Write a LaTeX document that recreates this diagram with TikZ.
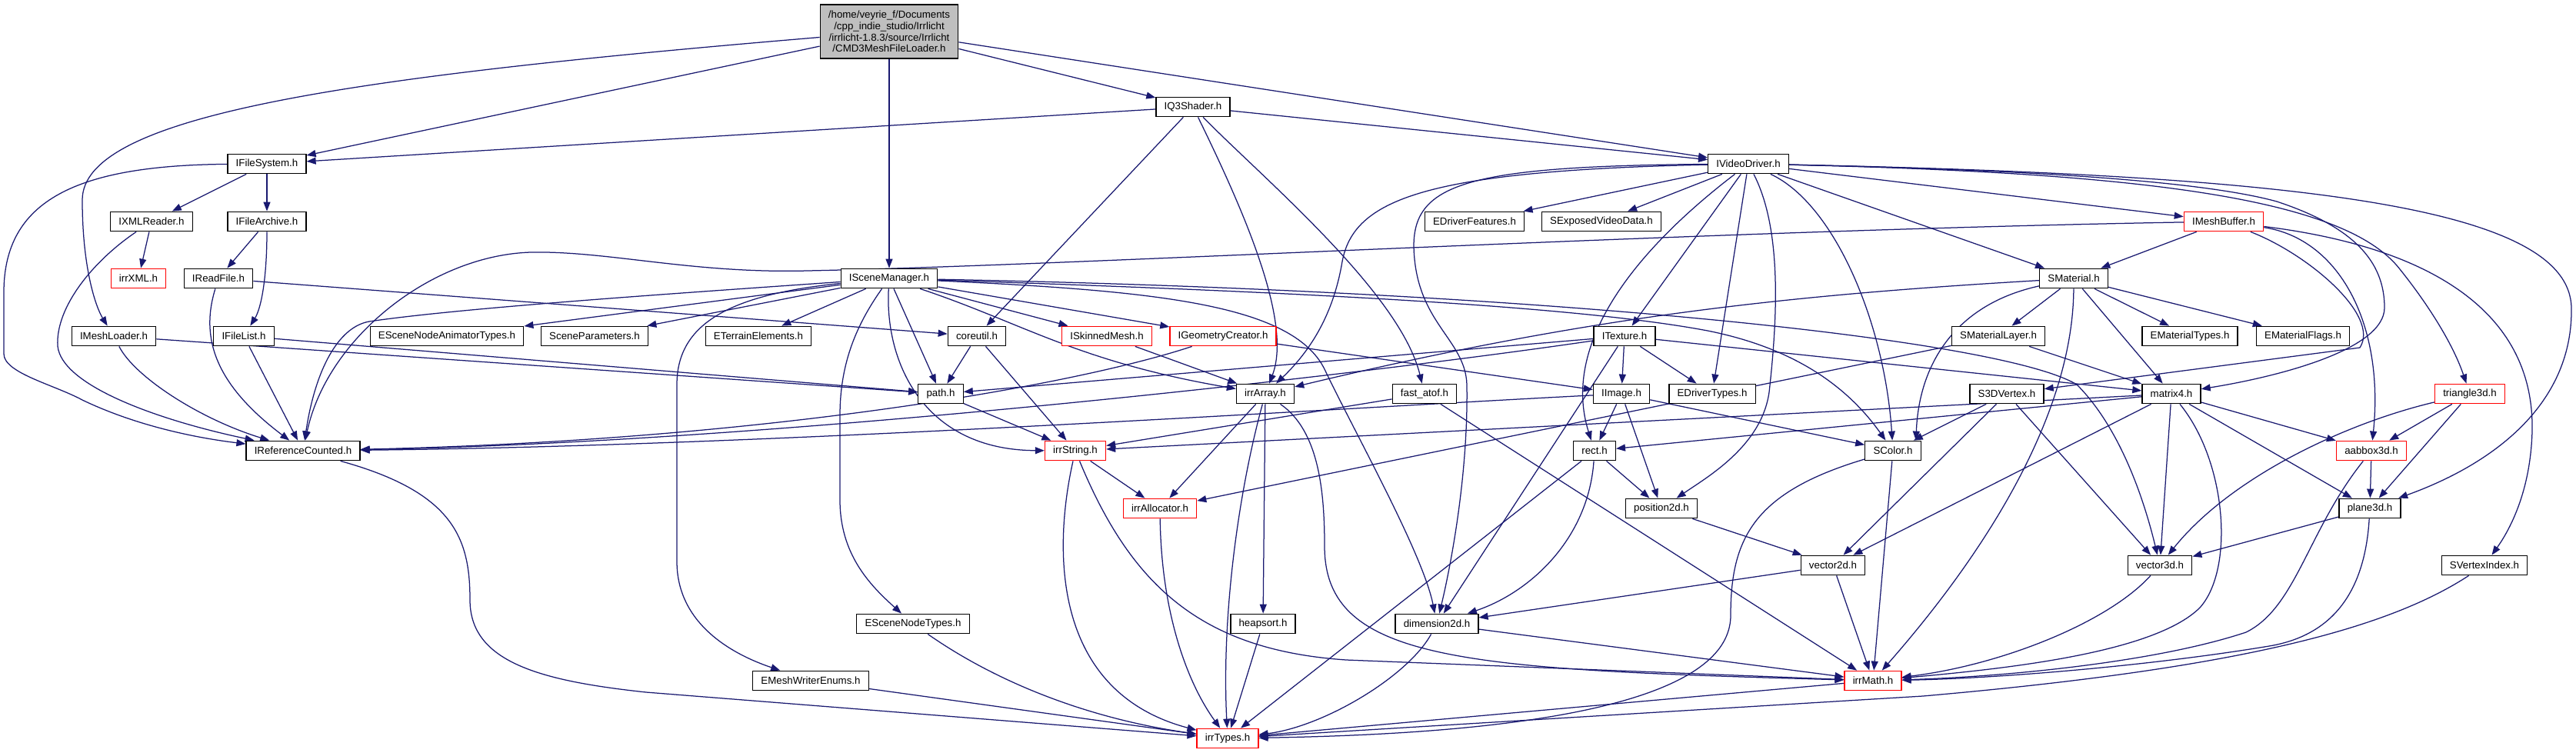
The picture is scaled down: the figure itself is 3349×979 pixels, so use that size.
\documentclass[tikz,border=0pt]{standalone}
\usepackage{fontspec}
\setmainfont{Liberation Sans}
\usetikzlibrary{arrows.meta}
\definecolor{edgeblue}{HTML}{191970}
\definecolor{topgray}{HTML}{BFBFBF}
\pgfdeclarelayer{edgelayer}
\pgfsetlayers{edgelayer,main}
\begin{document}
\begin{tikzpicture}[x=1pt,y=-1pt,
  box/.style={draw=black, line width=1.3pt, fill=white, font=\fontsize{13.3}{15}\selectfont, inner xsep=10.7pt, inner ysep=0pt, minimum height=25.5pt},
  redbox/.style={box, draw=red},
  dep/.style={draw=edgeblue, line width=1.25pt, -{Triangle[length=12pt,width=9pt]}},
]
\useasboundingbox (0,0) rectangle (3349,979);
% nodes
\node[box, fill=topgray, align=center, minimum width=178pt, minimum height=70pt, font=\fontsize{13.3}{14.6}\selectfont] (T) at (1156,41) {/home/veyrie\_f/Documents\\/cpp\_indie\_studio/Irrlicht\\/irrlicht-1.8.3/source/Irrlicht\\/CMD3MeshFileLoader.h};
\node[box] (IQ3) at (1551,139) {IQ3Shader.h};
\node[box] (IFS) at (347,213) {IFileSystem.h};
\node[box] (IVD) at (2273,213) {IVideoDriver.h};
\node[box] (IXML) at (197,288) {IXMLReader.h};
\node[box] (IFA) at (347,288) {IFileArchive.h};
\node[box] (EDF) at (1917,288) {EDriverFeatures.h};
\node[box] (SEVD) at (2082,288) {SExposedVideoData.h};
\node[redbox] (IMB) at (2891,288) {IMeshBuffer.h};
\node[redbox] (irrXML) at (180,362) {irrXML.h};
\node[box] (IRF) at (284,362) {IReadFile.h};
\node[box] (ISM) at (1156,362) {ISceneManager.h};
\node[box] (SMat) at (2696,362) {SMaterial.h};
\node[box] (IML) at (148,437) {IMeshLoader.h};
\node[box] (IFL) at (317,437) {IFileList.h};
\node[box] (ESNAT) at (581,437) {ESceneNodeAnimatorTypes.h};
\node[box] (SP) at (773,437) {SceneParameters.h};
\node[box] (ETE) at (986,437) {ETerrainElements.h};
\node[box] (CU) at (1270,437) {coreutil.h};
\node[redbox] (ISK) at (1439,437) {ISkinnedMesh.h};
\node[redbox] (IGC) at (1590,437) {IGeometryCreator.h};
\node[box] (ITex) at (2112,437) {ITexture.h};
\node[box] (SML) at (2598,437) {SMaterialLayer.h};
\node[box] (EMT) at (2847,437) {EMaterialTypes.h};
\node[box] (EMF) at (2994,437) {EMaterialFlags.h};
\node[box] (path) at (1223,512) {path.h};
\node[box] (irrArray) at (1645,512) {irrArray.h};
\node[box] (fatof) at (1852,512) {fast\_atof.h};
\node[box] (IImg) at (2108,512) {IImage.h};
\node[box] (EDT) at (2226,512) {EDriverTypes.h};
\node[box] (S3DV) at (2609,512) {S3DVertex.h};
\node[box] (m4) at (2823,512) {matrix4.h};
\node[redbox] (tri) at (3211,512) {triangle3d.h};
\node[box] (IRC) at (394,586) {IReferenceCounted.h};
\node[redbox] (irrStr) at (1398,586) {irrString.h};
\node[box] (rect) at (2073,586) {rect.h};
\node[box] (SCol) at (2461,586) {SColor.h};
\node[redbox] (aabb) at (3083,586) {aabbox3d.h};
\node[redbox] (alloc) at (1508,661) {irrAllocator.h};
\node[box] (pos2) at (2160,661) {position2d.h};
\node[box] (pl3) at (3081,661) {plane3d.h};
\node[box] (v2) at (2383,735) {vector2d.h};
\node[box] (v3) at (2808,735) {vector3d.h};
\node[box] (SVI) at (3230,735) {SVertexIndex.h};
\node[box] (ESNT) at (1187,811) {ESceneNodeTypes.h};
\node[box] (heap) at (1642,811) {heapsort.h};
\node[box] (dim2) at (1868,811) {dimension2d.h};
\node[box] (EMWE) at (1054,885) {EMeshWriterEnums.h};
\node[redbox] (irrMath) at (2435,885) {irrMath.h};
\node[redbox] (irrTypes) at (1596,960) {irrTypes.h};

\begin{pgfonlayer}{edgelayer}
\fill[white] (0,0) rectangle (3349,979);
% top file
\draw[dep] (T) .. controls (450,100) and (107,150) .. (107,260) .. controls (107,350) and (125,400) .. (IML);
\draw[dep] (T) -- (IFS);
\draw[dep] (T) -- (ISM);
\draw[dep] (T) -- (IQ3);
\draw[dep] (T) -- (IVD);
% IQ3Shader
\draw[dep] (IQ3) -- (IFS);
\draw[dep] (IQ3) -- (IVD);
\draw[dep] (IQ3) -- (CU);
\draw[dep] (IQ3) .. controls (1620,280) and (1680,420) .. (irrArray);
\draw[dep] (IQ3) .. controls (1640,230) and (1820,380) .. (fatof);
% IFileSystem
\draw[dep] (IFS) -- (IXML);
\draw[dep] (IFS) -- (IFA);
\draw[dep] (IFS) .. controls (100,215) and (5,260) .. (5,380) -- (5,460) .. controls (5,485) and (70,500) .. (107,520) .. controls (180,555) and (260,570) .. (IRC);
\draw[dep] (IXML) -- (irrXML);
\draw[dep] (IXML) .. controls (120,340) and (72,400) .. (75,450) .. controls (80,500) and (200,545) .. (IRC);
\draw[dep] (IFA) -- (IRF);
\draw[dep] (IFA) .. controls (347,360) and (340,400) .. (IFL);
\draw[dep] (IRF) .. controls (260,440) and (280,500) .. (IRC);
\draw[dep] (IRF) -- (CU);
\draw[dep] (IFL) -- (IRC);
\draw[dep] (IFL) -- (path);
\draw[dep] (IML) .. controls (175,490) and (260,545) .. (IRC);
\draw[dep] (IML) -- (path);
% ISceneManager
\draw[dep] (ISM) .. controls (900,380) and (600,400) .. (480,418) .. controls (440,425) and (410,480) .. (IRC);
\draw[dep] (ISM) -- (ESNAT);
\draw[dep] (ISM) -- (SP);
\draw[dep] (ISM) -- (ETE);
\draw[dep] (ISM) .. controls (1115,420) and (1092,470) .. (1092,540) -- (1092,650) .. controls (1092,720) and (1130,760) .. (ESNT);
\draw[dep] (ISM) .. controls (950,383) and (880,420) .. (880,500) -- (880,730) .. controls (880,810) and (950,850) .. (EMWE);
\draw[dep] (ISM) -- (path);
\draw[dep] (ISM) .. controls (1150,470) and (1200,585) .. (irrStr);
\draw[dep] (ISM) -- (ISK);
\draw[dep] (ISM) -- (IGC);
\draw[dep] (ISM) .. controls (1330,420) and (1400,470) .. (irrArray);
\draw[dep] (ISM) .. controls (1500,378) and (1680,395) .. (1722,480) .. controls (1760,560) and (1850,720) .. (dim2);
\draw[dep] (ISM) .. controls (1700,380) and (2050,398) .. (2220,430) .. controls (2330,452) and (2400,500) .. (SCol);
\draw[dep] (ISM) .. controls (2000,378) and (2600,440) .. (2700,500) .. controls (2760,560) and (2790,660) .. (v3);
% IVideoDriver
\draw[dep] (IVD) -- (EDF);
\draw[dep] (IVD) -- (SEVD);
\draw[dep] (IVD) -- (ITex);
\draw[dep] (IVD) -- (EDT);
\draw[dep] (IVD) .. controls (2318,300) and (2310,420) .. (2300,510) .. controls (2290,580) and (2220,620) .. (pos2);
\draw[dep] (IVD) -- (SMat);
\draw[dep] (IVD) -- (IMB);
\draw[dep] (IVD) .. controls (2120,330) and (2030,450) .. (rect);
\draw[dep] (IVD) .. controls (1910,216) and (1838,238) .. (1838,320) .. controls (1840,420) and (1905,440) .. (1907,500) .. controls (1909,620) and (1885,740) .. (dim2);
\draw[dep] (IVD) .. controls (1850,222) and (1760,260) .. (1745,340) .. controls (1735,400) and (1710,450) .. (irrArray);
\draw[dep] (IVD) .. controls (2385,265) and (2450,420) .. (SCol);
\draw[dep] (IVD) .. controls (2700,222) and (2880,240) .. (2960,262) .. controls (3060,295) and (3100,340) .. (3100,400) .. controls (3100,455) and (2960,490) .. (m4);
\draw[dep] (IVD) .. controls (3000,228) and (3340,270) .. (3343,400) .. controls (3345,520) and (3250,600) .. (pl3);
\draw[dep] (IVD) .. controls (2800,225) and (3050,260) .. (3120,350) .. controls (3160,400) and (3190,450) .. (tri);
% IMeshBuffer
\draw[dep] (IMB) .. controls (2200,300) and (1400,345) .. (1050,352) .. controls (900,356) and (790,326) .. (690,328) .. controls (560,332) and (425,440) .. (IRC);
\draw[dep] (IMB) -- (SMat);
\draw[dep] (IMB) .. controls (3040,310) and (3100,420) .. (aabb);
\draw[dep] (IMB) .. controls (3000,330) and (3095,410) .. (3068,452) -- (S3DV);
\draw[dep] (IMB) .. controls (3150,320) and (3295,400) .. (3292,560) .. controls (3290,640) and (3262,690) .. (SVI);
% SMaterial
\draw[dep] (SMat) -- (SML);
\draw[dep] (SMat) -- (EMT);
\draw[dep] (SMat) -- (EMF);
\draw[dep] (SMat) -- (m4);
\draw[dep] (SMat) .. controls (2695,540) and (2580,720) .. (irrMath);
\draw[dep] (SMat) .. controls (2545,395) and (2495,470) .. ([xshift=-7pt]SCol.north east);
\draw[dep] (SMat) .. controls (2300,385) and (2050,415) .. (irrArray);
\draw[dep] (SML) -- (m4);
\draw[dep] (SML) -- (alloc);
% ITexture, IImage
\draw[dep] (ITex) .. controls (1750,490) and (1000,575) .. (IRC);
\draw[dep] (ITex) -- (path);
\draw[dep] (ITex) -- (IImg);
\draw[dep] (ITex) -- (EDT);
\draw[dep] (ITex) -- (dim2);
\draw[dep] (ITex) -- (m4);
\draw[dep] (IImg) .. controls (1750,530) and (1000,580) .. (IRC);
\draw[dep] (IImg) -- (pos2);
\draw[dep] (IImg) -- (rect);
\draw[dep] (IImg) -- (SCol);
% misc
\draw[dep] (IGC) .. controls (1400,500) and (1000,572) .. (IRC);
\draw[dep] (IGC) -- (IImg);
\draw[dep] (ISK) -- (irrArray);
\draw[dep] (CU) -- (irrStr);
\draw[dep] (CU) -- (path);
\draw[dep] (path) -- (irrStr);
\draw[dep] (fatof) -- (irrStr);
\draw[dep] (fatof) -- (irrMath);
% irrArray, irrString
\draw[dep] (irrArray) .. controls (1610,640) and (1588,800) .. (irrTypes);
\draw[dep] (irrArray) -- (heap);
\draw[dep] (irrArray) -- (alloc);
\draw[dep] (irrArray) .. controls (1715,560) and (1722,640) .. (1722,710) .. controls (1722,860) and (1900,870) .. (irrMath);
\draw[dep] (irrStr) -- (alloc);
\draw[dep] (irrStr) .. controls (1368,720) and (1370,900) .. (irrTypes);
\draw[dep] (irrStr) .. controls (1470,760) and (1560,845) .. (1750,858) -- (irrMath);
\draw[dep] (alloc) .. controls (1510,800) and (1545,890) .. (irrTypes);
\draw[dep] (heap) -- (irrTypes);
\draw[dep] (ESNT) .. controls (1300,890) and (1420,935) .. (irrTypes);
\draw[dep] (EMWE) -- (irrTypes);
\draw[dep] (IRC) .. controls (590,640) and (611,700) .. (611,780) .. controls (611,860) and (700,885) .. (840,900) -- (irrTypes);
% geometry
\draw[dep] (rect) -- (irrTypes);
\draw[dep] (rect) .. controls (2065,700) and (1990,770) .. (dim2);
\draw[dep] (rect) -- (pos2);
\draw[dep] (pos2) -- (v2);
\draw[dep] (v2) -- (irrMath);
\draw[dep] (v2) -- (dim2);
\draw[dep] (dim2) .. controls (1830,880) and (1720,945) .. (irrTypes);
\draw[dep] (dim2) -- (irrMath);
\draw[dep] (SCol) .. controls (2280,640) and (2250,700) .. (2250,800) .. controls (2250,930) and (1900,955) .. (irrTypes);
\draw[dep] (SCol) -- (irrMath);
\draw[dep] (irrMath) -- (irrTypes);
\draw[dep] (S3DV) -- (v3);
\draw[dep] (S3DV) -- (v2);
\draw[dep] (S3DV) -- (SCol);
\draw[dep] (m4) .. controls (2895,600) and (2905,740) .. (2860,790) .. controls (2800,850) and (2600,870) .. (irrMath);
\draw[dep] (m4) -- (v3);
\draw[dep] (m4) -- (v2);
\draw[dep] (m4) -- (pl3);
\draw[dep] (m4) -- (aabb);
\draw[dep] (m4) -- (rect);
\draw[dep] (m4) -- (irrStr);
\draw[dep] (aabb) -- (pl3);
\draw[dep] (aabb) .. controls (3000,690) and (2985,790) .. (2920,822) .. controls (2800,862) and (2600,880) .. (irrMath);
\draw[dep] (pl3) .. controls (3075,760) and (3040,825) .. (2950,840) .. controls (2800,865) and (2600,882) .. (irrMath);
\draw[dep] (pl3) -- (v3);
\draw[dep] (tri) .. controls (3050,550) and (2900,620) .. (v3);
\draw[dep] (tri) -- (aabb);
\draw[dep] (tri) -- (pl3);
\draw[dep] (v3) .. controls (2740,810) and (2600,865) .. (irrMath);
\draw[dep] (SVI) .. controls (3100,820) and (2900,870) .. (2500,905) -- (irrTypes);
\end{pgfonlayer}
\end{tikzpicture}
\end{document}
